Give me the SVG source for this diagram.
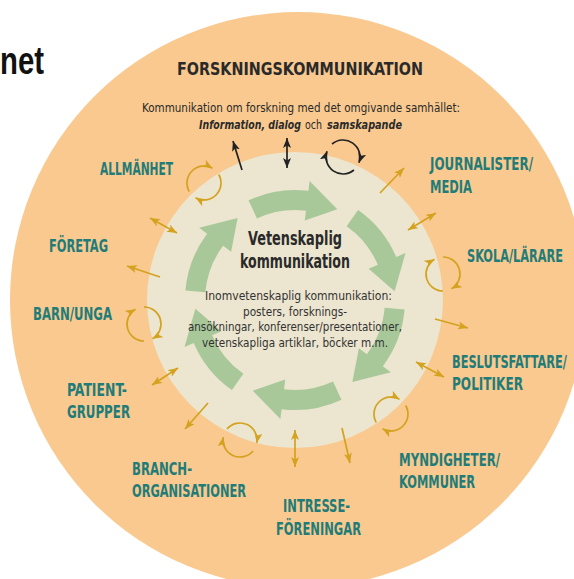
<svg xmlns="http://www.w3.org/2000/svg" xmlns:xlink="http://www.w3.org/1999/xlink" width="574" height="579" viewBox="0 0 574 579">
<style>
.cond{font-family:'Liberation Sans Narrow','DejaVu Sans Condensed','Roboto Condensed','Liberation Sans',Arial,sans-serif}
.lbl{font-weight:700;font-size:18px;fill:#1f7c78}
.ttl{font-weight:700;font-size:18px;fill:#2a2a2a}
.sub{font-size:12px;fill:#2a2a2a}
.bi{font-weight:700;font-style:italic}
.inner{font-size:13px;fill:#333}
.center{font-weight:700;font-size:20px;fill:#2a2a2a}
.g{fill:none;stroke:#d4a21f;stroke-width:1.7}
.k{fill:none;stroke:#222;stroke-width:1.7}
.one{marker-end:url(#hg)}
.two{marker-start:url(#hg);marker-end:url(#hg)}
.kone{marker-end:url(#hk)}
.ktwo{marker-start:url(#hk);marker-end:url(#hk)}
</style>
<defs>
<marker id="hg" viewBox="0 0 10 8" refX="10" refY="4" markerWidth="10" markerHeight="8" markerUnits="userSpaceOnUse" orient="auto-start-reverse"><path d="M0,0 L10,4 L0,8 L2.5,4 z" fill="#d4a21f"/></marker>
<marker id="hk" viewBox="0 0 10 8" refX="10" refY="4" markerWidth="10" markerHeight="8" markerUnits="userSpaceOnUse" orient="auto-start-reverse"><path d="M0,0 L10,4 L0,8 L2.5,4 z" fill="#222"/></marker>
<path id="garrow" d="M405,300 A110,110 0 0 1 388.28,358.29 L396.76,363.59 L359.28,376.6 L362.84,342.39 L371.32,347.69 A90,90 0 0 0 385,300 Z" fill="#a8c89a"/>
<g id="circg" class="g"><path class="one" d="M-14.72,8.5 A17,17 0 0 1 8.5,-14.72"/><path class="one" d="M14.72,-8.5 A17,17 0 0 1 -8.5,14.72"/></g>
<g id="circk" class="k"><path class="kone" d="M-14.72,8.5 A17,17 0 0 1 8.5,-14.72"/><path class="kone" d="M14.72,-8.5 A17,17 0 0 1 -8.5,14.72"/></g>
</defs>
<rect width="574" height="579" fill="#fff"/>
<text x="0" y="74" font-family="'Liberation Sans',Arial,sans-serif" font-weight="700" font-size="38" fill="#111" textLength="44" lengthAdjust="spacingAndGlyphs">net</text>
<g id="outer"><circle cx="298" cy="300" r="288" fill="#f9c98f"/></g>
<g id="inner"><circle cx="295" cy="300" r="148" fill="#ece5cf"/></g>
<g id="cycle">
<use xlink:href="#garrow" transform="rotate(-115 295 300)"/>
<use xlink:href="#garrow" transform="rotate(-55 295 300)"/>
<use xlink:href="#garrow" transform="rotate(5 295 300)"/>
<use xlink:href="#garrow" transform="rotate(65 295 300)"/>
<use xlink:href="#garrow" transform="rotate(125 295 300)"/>
<use xlink:href="#garrow" transform="rotate(185 295 300)"/>
</g>
<g id="title" class="cond">
<text class="ttl" x="177" y="75" textLength="246" lengthAdjust="spacingAndGlyphs">FORSKNINGSKOMMUNIKATION</text>
<text class="sub" x="142" y="112" textLength="318" lengthAdjust="spacingAndGlyphs">Kommunikation om forskning med det omgivande samhället:</text>
<text class="sub bi" transform="translate(199 129) scale(0.8 1)" x="0" y="0" textLength="127.5" lengthAdjust="spacingAndGlyphs">Information, dialog</text>
<text class="sub" x="305" y="129" textLength="17" lengthAdjust="spacingAndGlyphs">och</text>
<text class="sub bi" x="327" y="129" textLength="75" lengthAdjust="spacingAndGlyphs">samskapande</text>
</g>
<g id="center-node" class="cond">
<text class="center" x="248" y="245" textLength="94" lengthAdjust="spacingAndGlyphs">Vetenskaplig</text>
<text class="center" x="240" y="268" textLength="110" lengthAdjust="spacingAndGlyphs">kommunikation</text>
<text class="inner" x="205" y="300" textLength="187" lengthAdjust="spacingAndGlyphs">Inomvetenskaplig kommunikation:</text>
<text class="inner" x="243" y="316" textLength="104" lengthAdjust="spacingAndGlyphs">posters, forsknings-</text>
<text class="inner" x="188" y="331" textLength="214" lengthAdjust="spacingAndGlyphs">ansökningar, konferenser/presentationer,</text>
<text class="inner" x="202" y="347" textLength="186" lengthAdjust="spacingAndGlyphs">vetenskapliga artiklar, böcker m.m.</text>
</g>
<g id="allmanhet" class="cond"><text class="lbl" x="100" y="175" textLength="73" lengthAdjust="spacingAndGlyphs">ALLMÄNHET</text></g>
<g id="journalister" class="cond"><text class="lbl" x="430" y="170" textLength="103" lengthAdjust="spacingAndGlyphs">JOURNALISTER/</text><text class="lbl" x="430" y="193" textLength="42" lengthAdjust="spacingAndGlyphs">MEDIA</text></g>
<g id="foretag" class="cond"><text class="lbl" x="49" y="252" textLength="59" lengthAdjust="spacingAndGlyphs">FÖRETAG</text></g>
<g id="skola" class="cond"><text class="lbl" transform="translate(467 262) scale(0.7 1)" x="0" y="0" textLength="137.1" lengthAdjust="spacingAndGlyphs">SKOLA/LÄRARE</text></g>
<g id="barn" class="cond"><text class="lbl" x="33" y="320" textLength="79" lengthAdjust="spacingAndGlyphs">BARN/UNGA</text></g>
<g id="beslutsfattare" class="cond"><text class="lbl" transform="translate(452 368) scale(0.7 1)" x="0" y="0" textLength="164.3" lengthAdjust="spacingAndGlyphs">BESLUTSFATTARE/</text><text class="lbl" x="452" y="390" textLength="71" lengthAdjust="spacingAndGlyphs">POLITIKER</text></g>
<g id="patient" class="cond"><text class="lbl" x="67" y="396" textLength="60" lengthAdjust="spacingAndGlyphs">PATIENT-</text><text class="lbl" x="67" y="418" textLength="63" lengthAdjust="spacingAndGlyphs">GRUPPER</text></g>
<g id="myndigheter" class="cond"><text class="lbl" x="399" y="466" textLength="101" lengthAdjust="spacingAndGlyphs">MYNDIGHETER/</text><text class="lbl" x="399" y="488" textLength="76" lengthAdjust="spacingAndGlyphs">KOMMUNER</text></g>
<g id="branch" class="cond"><text class="lbl" x="132" y="475" textLength="60" lengthAdjust="spacingAndGlyphs">BRANCH-</text><text class="lbl" x="132" y="497" textLength="114" lengthAdjust="spacingAndGlyphs">ORGANISATIONER</text></g>
<g id="intresse" class="cond"><text class="lbl" x="283" y="512" textLength="67" lengthAdjust="spacingAndGlyphs">INTRESSE-</text><text class="lbl" x="276" y="535" textLength="85" lengthAdjust="spacingAndGlyphs">FÖRENINGAR</text></g>
<g id="connectors">
<path class="k kone" d="M242,170 L233,141"/>
<path class="k ktwo" d="M287,168 L287,138"/>
<use xlink:href="#circk" transform="translate(343 157) rotate(-100)"/>
<use xlink:href="#circg" transform="translate(204 183)"/>
<use xlink:href="#circg" transform="translate(443 274) rotate(-60)"/>
<use xlink:href="#circg" transform="translate(144 324) rotate(-60)"/>
<use xlink:href="#circg" transform="translate(391 414)"/>
<use xlink:href="#circg" transform="translate(240 440) rotate(-110)"/>
<path class="g one" d="M380,193 L404,168"/>
<path class="g two" d="M408,230 L436,213"/>
<path class="g two" d="M150,218 L177,233"/>
<path class="g one" d="M160,277 L127,266"/>
<path class="g two" d="M152,385 L178,368"/>
<path class="g one" d="M208,403 L185,429"/>
<path class="g two" d="M295,430 L295,467"/>
<path class="g one" d="M342,428 L350,463"/>
<path class="g one" d="M435,319 L468,328"/>
<path class="g two" d="M416,362 L444,377"/>
</g>
</svg>
